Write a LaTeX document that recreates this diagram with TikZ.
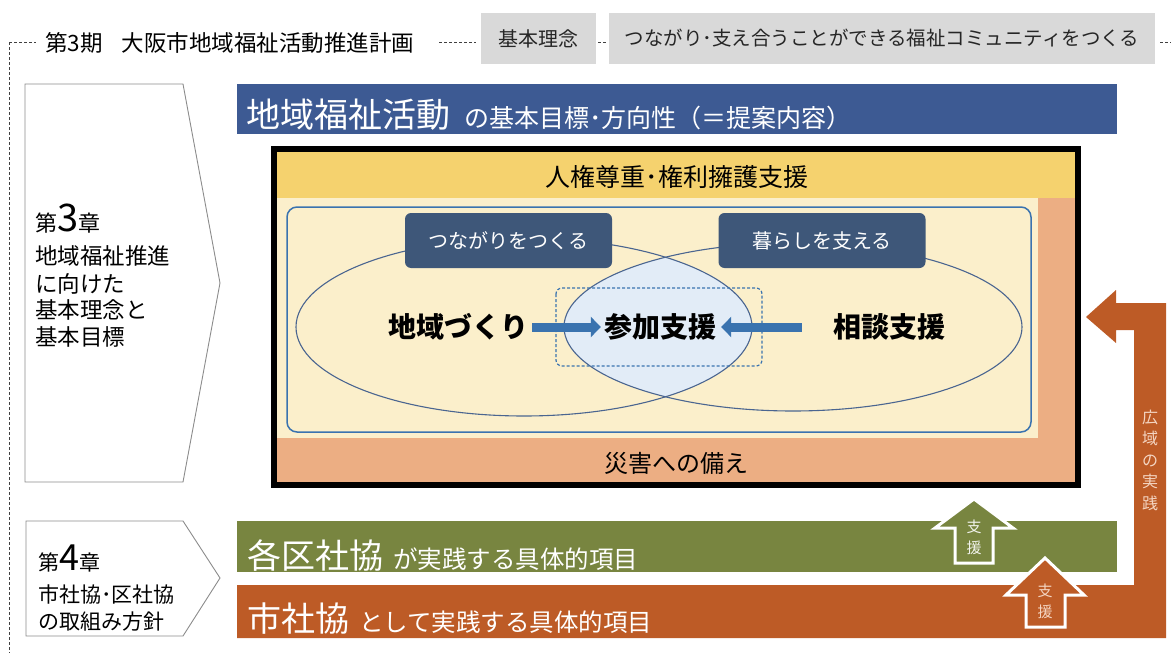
\documentclass[tikz,border=0pt]{standalone}
\usepackage{fontspec}
\setmainfont{Noto Sans CJK JP}
\usetikzlibrary{arrows.meta}
\definecolor{graybox}{HTML}{D9D9D9}
\definecolor{bannerblue}{HTML}{3D5A93}
\definecolor{bandyellow}{HTML}{F5D26E}
\definecolor{beige}{HTML}{FBEFCB}
\definecolor{peach}{HTML}{ECAE83}
\definecolor{darkbox}{HTML}{3E5779}
\definecolor{lensblue}{HTML}{E2ECF7}
\definecolor{lineblue}{HTML}{3A73AF}
\definecolor{ellline}{HTML}{4A6590}
\definecolor{bandgreen}{HTML}{788540}
\definecolor{bandorange}{HTML}{BD5B26}
\definecolor{pentline}{HTML}{8C8C8C}
\definecolor{dashgray}{HTML}{404040}
\definecolor{paletext}{HTML}{F4D5C2}
\newcommand\fsz[2]{\fontsize{#1}{#2}\selectfont}
\begin{document}
\begin{tikzpicture}[x=1pt,y=-1pt,
  dashline/.style={draw=dashgray, line width=0.8pt, dash pattern=on 3pt off 2pt},
  grayrect/.style={fill=graybox, inner sep=0pt, minimum height=51pt, text=black!85},
  pent/.style={draw=pentline, line width=0.9pt, fill=white},
  chtext/.style={anchor=base west, inner sep=0pt, text=black},
  darkrect/.style={fill=darkbox, rounded corners=6pt, minimum width=207pt, minimum height=55pt, inner sep=0pt, text=white},
  boldtext/.style={inner sep=0pt, text=black, font=\bfseries\fsz{28}{30}},
  bigarrow/.style={draw=lineblue, line width=9pt, -{Triangle[length=10pt,width=20pt]}},
  ell/.style={draw=ellline, line width=1.1pt},
  bandtext/.style={anchor=base west, inner sep=0pt, text=white},
  supptext/.style={align=center, inner sep=0pt, font=\fsz{15}{21}},
  suppshape/.style={draw=white, line width=3pt, line join=miter}
]
\useasboundingbox (0,0) rectangle (1171,653);

% header
\coordinate (c0) at (9,42);
\node[anchor=west, inner sep=0pt] (title) at (45,43) {\fsz{22.5}{26}第3期\hspace{19pt}大阪市地域福祉活動推進計画};
\node[grayrect, minimum width=115pt, font=\fsz{20}{22}] (kihon) at (538.5,38.5) {基本理念};
\node[grayrect, minimum width=546pt, font=\fsz{19.5}{22}] (rinen) at (882,38.5) {つながり･支え合うことができる福祉コミュニティをつくる};
\coordinate (c1) at (1171,42);
\draw[dashline] (c0) -- ([xshift=-9pt]title.west |- c0);
\draw[dashline] ([xshift=25pt]title.east |- c0) -- ([xshift=-5pt]kihon.west |- c0);
\draw[dashline] ([xshift=2pt]kihon.east |- c0) -- ([xshift=-2pt]rinen.west |- c0);
\draw[dashline] ([xshift=5pt]rinen.east |- c0) -- (c1);
\draw[dashline] (c0) -- (9,653);

% chapter 3
\draw[pent] (25,84) -- (183,84) -- (220,283) -- (183,482) -- (25,482) -- cycle;
\node[chtext] (ch3a) at (35,231) {\fsz{22}{26}第\fsz{38}{40}3\fsz{22}{26}章};
\node[chtext] (ch3b) at (35,264) {\fsz{22.5}{26}地域福祉推進};
\node[chtext] (ch3c) at (35,292) {\fsz{22.5}{26}に向けた};
\node[chtext] (ch3d) at (35,318) {\fsz{22.5}{26}基本理念と};
\node[chtext] (ch3e) at (35,345) {\fsz{22.5}{26}基本目標};

% blue banner
\fill[bannerblue] (237,84) rectangle (1117,134);
\node[bandtext] (banner) at (246,127) {\fsz{34}{36}地域福祉活動\hspace{14pt}\fsz{25}{27}の基本目標･方向性（＝提案内容）};

% frame
\fill[peach] (277,152) rectangle (1075,482);
\fill[bandyellow] (277,152) rectangle (1075,198);
\fill[beige] (277,198) rectangle (1038,438);
\node[inner sep=0pt, font=\fsz{25}{27}] (jinken) at (677,177) {人権尊重･権利擁護支援};
\node[inner sep=0pt, font=\fsz{24}{26}] (saigai) at (676,463) {災害への備え};
\draw[lineblue, line width=1.5pt, rounded corners=10pt] (287,207) rectangle (1031,432);

% ellipses
\begin{scope}
  \clip (524,327) ellipse [x radius=228, y radius=89];
  \fill[lensblue] (793,327) ellipse [x radius=229, y radius=84];
\end{scope}
\draw[ell] (524,327) ellipse [x radius=228, y radius=89];
\draw[ell] (793,327) ellipse [x radius=229, y radius=84];

\node[darkrect, font=\fsz{20}{22}] (tsunagari) at (508.5,240.5) {つながりをつくる};
\node[darkrect, font=\fsz{20}{22}] (kurashi) at (822,240.5) {暮らしを支える};

\draw[lineblue, line width=1.2pt, dash pattern=on 3pt off 2pt, rounded corners=6pt] (556,288) rectangle (762,366);

\node[boldtext] (chiiki) at (458,327) {地域づくり};
\node[boldtext] (sanka) at (660,327) {参加支援};
\node[boldtext] (soudan) at (889,327) {相談支援};
\draw[bigarrow, shorten >=3pt] ([xshift=4pt]chiiki.east) -- (sanka.west);
\draw[bigarrow, shorten >=5pt] ([xshift=-31pt]soudan.west) -- (sanka.east);

\draw[black, line width=6pt] (274,149) rectangle (1078,485);

% chapter 4
\draw[pent] (26,521) -- (183,521) -- (220,578) -- (183,636) -- (26,636) -- cycle;
\node[chtext] (ch4a) at (38,570) {\fsz{21}{24}第\fsz{36}{38}4\fsz{21}{24}章};
\node[chtext] (ch4b) at (38,602) {\fsz{21}{24}市社協･区社協};
\node[chtext] (ch4c) at (38,629) {\fsz{21}{24}の取組み方針};

% green band
\fill[bandgreen] (237,521) rectangle (1117,572);
\node[bandtext] (kakuku) at (247,568) {\fsz{34}{36}各区社協\hspace{10pt}\fsz{24.5}{26}が実践する具体的項目};

% orange L arrow
\fill[bandorange] (1086,317) -- (1116,290) -- (1116,303) -- (1166,303) -- (1166,638)
  -- (237,638) -- (237,585) -- (1134,585) -- (1134,330) -- (1116,330) -- (1116,343) -- cycle;
\node[bandtext] (shi) at (247,631) {\fsz{34}{36}市社協\hspace{10pt}\fsz{24.5}{26}として実践する具体的項目};
\node[align=center, inner sep=0pt, text=paletext, font=\fsz{16}{21.5}] (kouiki) at (1150,460) {広\\域\\の\\実\\践};

% support arrows
\draw[suppshape, fill=bandgreen] (974,499) -- (1013,528) -- (993,528) -- (993,563) -- (955,563) -- (955,528) -- (935,528) -- cycle;
\node[supptext, text=white!90!bandgreen] (shien1) at (974,537.5) {支\\援};
\draw[suppshape, fill=bandorange] (1045,558) -- (1084,595) -- (1065,595) -- (1065,627) -- (1026,627) -- (1026,595) -- (1006,595) -- cycle;
\node[supptext, text=paletext] (shien2) at (1045,601) {支\\援};
\end{tikzpicture}
\end{document}
